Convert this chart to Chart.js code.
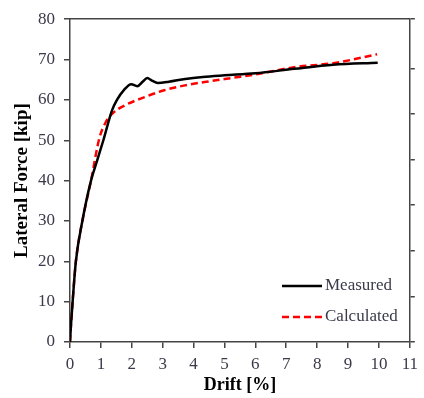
<!DOCTYPE html>
<html>
<head>
<meta charset="utf-8">
<script src="https://cdn.jsdelivr.net/npm/chart.js@4/dist/chart.umd.min.js"></script>
<style>
  html, body { margin: 0; padding: 0; background: #fff; }
  #wrap { width: 424px; height: 398px; }
</style>
</head>
<body>
<div id="wrap"><canvas id="chart" width="424" height="398"></canvas></div>
<script>
// Measured curve (drift %, lateral force kip).
const measuredDrift = [0, 0.03, 0.085, 0.19, 0.4, 0.68, 0.88, 1.08, 1.36, 1.52, 1.75, 1.98, 2.18, 2.35, 2.5, 2.65, 2.84, 3.2, 3.73, 4.3, 5, 6, 7.26, 8.52, 9.96];
const measuredForce = [0, 4, 10, 20, 30, 40, 45, 50, 57.4, 60, 62.5, 63.9, 63.4, 64.5, 65.4, 64.8, 64.2, 64.5, 65.2, 65.7, 66.1, 66.6, 67.7, 68.7, 69.2];

// Calculated curve.
const calcDrift = [0, 0.03, 0.085, 0.19, 0.4, 0.68, 0.95, 1.16, 1.37, 1.79, 2.42, 3.05, 3.72, 4.5, 5.3, 6, 7.26, 8.52, 9.94];
const calcForce = [0, 4, 10, 20, 30, 40, 50.5, 54.5, 56.6, 58.7, 60.7, 62.4, 63.6, 64.6, 65.5, 66.3, 68.1, 69.1, 71.3];

const seriesLabels = ['Measured', 'Calculated'];
const axisColor = '#444';
const tickColor = '#3a3a4a';

const toPoints = (xs, ys) => xs.map((x, i) => ({x, y: ys[i]}));

Chart.defaults.font.family = '"Liberation Serif", "Times New Roman", serif';
Chart.defaults.font.size = 17;

// Legend drawn inside the plot, bottom right.
const insideLegend = {
  id: 'insideLegend',
  afterDraw: (chart) => {
    const {ctx} = chart;
    ctx.save();
    chart.data.datasets.forEach((ds, i) => {
      const y = 286 + i * 31;
      ctx.beginPath();
      ctx.strokeStyle = ds.borderColor;
      ctx.lineWidth = ds.borderWidth;
      ctx.setLineDash(ds.borderDash || []);
      ctx.moveTo(282, y);
      ctx.lineTo(322, y);
      ctx.stroke();
      ctx.setLineDash([]);
      ctx.fillStyle = tickColor;
      ctx.font = '17px "Liberation Serif", serif';
      ctx.textBaseline = 'middle';
      ctx.textAlign = 'left';
      ctx.fillText(ds.label, 325, y);
    });
    ctx.restore();
  }
};

const ctx = document.getElementById('chart').getContext('2d');
new Chart(ctx, {
  type: 'line',
  data: {
    datasets: [
      {
        label: seriesLabels[0],
        data: toPoints(measuredDrift, measuredForce),
        borderColor: '#000',
        borderWidth: 2.5,
        pointRadius: 0,
        cubicInterpolationMode: 'monotone',
        yAxisID: 'y',
      },
      {
        label: seriesLabels[1],
        data: toPoints(calcDrift, calcForce),
        borderColor: '#f00',
        borderWidth: 2.5,
        borderDash: [7, 4],
        pointRadius: 0,
        cubicInterpolationMode: 'monotone',
        yAxisID: 'y',
      },
    ],
  },
  options: {
    responsive: false,
    animation: false,
    layout: { padding: { top: 19, left: 0, right: 0, bottom: 0 } },
    plugins: {
      legend: { display: false },
      tooltip: { enabled: false },
    },
    scales: {
      x: {
        type: 'linear',
        position: 'bottom',
        min: 0,
        max: 11,
        ticks: { stepSize: 1, color: tickColor, padding: 6, maxRotation: 0 },
        grid: { drawOnChartArea: false, tickLength: 6, color: axisColor, lineWidth: 1.5 },
        border: { color: axisColor, width: 1.5 },
        title: {
          display: true,
          text: 'Drift [%]',
          color: '#000',
          font: { weight: 'bold', size: 18 },
          padding: { top: 0, bottom: 2 },
        },
        afterFit: (scale) => { scale.height = 56; },
      },
      x2: {
        type: 'linear',
        position: 'top',
        min: 0,
        max: 11,
        ticks: { display: false },
        grid: { drawOnChartArea: false, drawTicks: false },
        border: { color: axisColor, width: 1.5 },
        afterFit: (scale) => { scale.height = 0; },
      },
      y: {
        position: 'left',
        min: 0,
        max: 80,
        ticks: { stepSize: 10, color: tickColor, padding: 9 },
        grid: { drawOnChartArea: false, tickLength: 6, color: axisColor, lineWidth: 1.5 },
        border: { color: axisColor, width: 1.5 },
        title: {
          display: true,
          text: 'Lateral Force [kip]',
          color: '#000',
          font: { weight: 'bold', size: 19 },
          padding: { top: 11, bottom: 0 },
        },
        afterFit: (scale) => { scale.width = 70; },
      },
      y2: {
        position: 'right',
        min: 0,
        max: 7.08,
        ticks: { stepSize: 1, display: false },
        grid: { drawOnChartArea: false, tickLength: 5, color: axisColor, lineWidth: 1.5 },
        border: { color: axisColor, width: 1.5 },
        afterFit: (scale) => { scale.width = 5; },
      },
    },
  },
  plugins: [insideLegend],
});
</script>
</body>
</html>
